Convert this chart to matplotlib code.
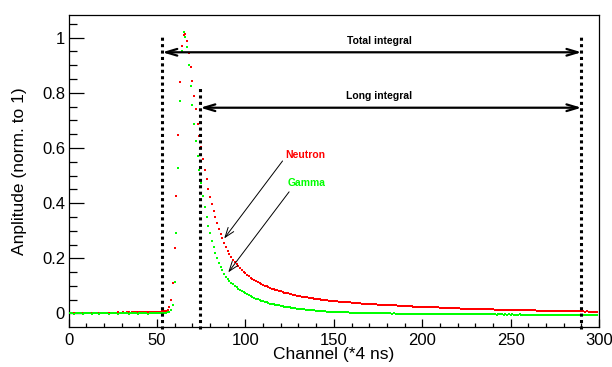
import numpy as np
import matplotlib
matplotlib.use("Agg")
import matplotlib.pyplot as plt
from matplotlib.ticker import MultipleLocator

plt.rcParams['font.family'] = ['Liberation Sans', 'DejaVu Sans']

# normalised pulse amplitudes per channel, in units of 1e-3
neutron = [
    0, 0, 1, 0, 0, 1, 0, 1, 0, 1,
    1, 0, 1, 1, 2, 1, 1, 2, 1, 2,
    2, 2, 3, 2, 3, 2, 3, 3, 4, 3,
    3, 4, 3, 4, 4, 3, 4, 4, 5, 4,
    4, 5, 4, 5, 5, 6, 5, 6, 6, 6,
    7, 6, 7, 8, 8, 10, 13, 23, 48, 109,
    238, 427, 646, 841, 968, 1008, 1015, 987, 944, 892,
    843, 789, 740, 688, 645, 602, 559, 520, 486, 452,
    423, 397, 371, 348, 327, 307, 289, 272, 256, 241,
    227, 215, 204, 194, 186, 178, 171, 164, 157, 151,
    145, 140, 135, 130, 126, 122, 118, 114, 110, 107,
    104, 101, 98, 95, 93, 90, 88, 86, 84, 82,
    80, 78, 76, 74, 73, 71, 70, 68, 67, 65,
    64, 63, 61, 60, 59, 58, 57, 56, 55, 54,
    53, 52, 51, 50, 50, 49, 48, 47, 47, 46,
    45, 45, 44, 43, 43, 42, 42, 41, 40, 40,
    39, 39, 38, 38, 37, 37, 36, 36, 35, 35,
    34, 34, 34, 33, 33, 32, 32, 32, 31, 31,
    30, 30, 30, 29, 29, 29, 28, 28, 28, 27,
    27, 27, 26, 26, 26, 25, 25, 25, 25, 24,
    24, 24, 23, 23, 23, 23, 22, 22, 22, 22,
    21, 21, 21, 21, 20, 20, 20, 20, 19, 19,
    19, 19, 18, 18, 18, 18, 18, 17, 17, 17,
    17, 16, 16, 16, 16, 16, 15, 15, 15, 15,
    15, 14, 14, 14, 14, 14, 13, 13, 13, 13,
    13, 13, 12, 12, 12, 12, 12, 12, 11, 11,
    11, 11, 11, 11, 11, 10, 10, 10, 10, 10,
    10, 10, 10, 9, 9, 9, 9, 9, 9, 9,
    9, 9, 8, 8, 8, 8, 8, 8, 8, 8,
    8, 8, 7, 8, 7, 7, 7, 7, 7, 7,
]

gamma = [
    0, 1, 0, -1, 0, 1, 0, 0, -1, 0,
    1, 0, 0, -1, 0, 1, 0, -1, 0, 1,
    0, 0, 1, -1, 0, 0, 1, 0, -1, 0,
    1, 0, 0, 1, -1, 0, 1, 0, 0, -1,
    0, 1, 0, 0, 1, -1, 0, 1, 0, 0,
    1, 0, 1, 1, 2, 3, 4, 6, 12, 30,
    114, 290, 526, 771, 950, 1019, 1002, 966, 900, 825,
    756, 688, 626, 571, 520, 472, 426, 385, 350, 317,
    290, 263, 242, 220, 201, 184, 169, 156, 144, 134,
    125, 118, 112, 106, 100, 95, 90, 85, 81, 77,
    73, 69, 66, 63, 60, 57, 54, 51, 48, 46,
    44, 42, 40, 38, 36, 35, 33, 32, 30, 29,
    28, 27, 25, 24, 23, 22, 21, 20, 19, 18,
    17, 16, 16, 15, 14, 13, 13, 12, 11, 11,
    10, 10, 9, 9, 8, 8, 7, 7, 7, 6,
    6, 6, 5, 5, 5, 4, 4, 4, 4, 3,
    3, 3, 3, 2, 2, 2, 2, 2, 1, 1,
    1, 1, 1, 1, 0, 0, 0, 0, 0, 0,
    0, 0, 0, -1, 0, -1, -1, -1, -1, -1,
    -1, -1, -1, -1, -1, -1, -2, -1, -1, -2,
    -1, -2, -2, -1, -2, -2, -2, -2, -1, -2,
    -2, -2, -2, -2, -2, -3, -2, -2, -2, -2,
    -2, -3, -2, -2, -3, -2, -3, -2, -3, -2,
    -3, -2, -3, -3, -2, -3, -3, -3, -3, -3,
    -3, -3, -4, -3, -3, -3, -4, -3, -4, -3,
    -4, -3, -4, -4, -4, -3, -4, -4, -4, -4,
    -4, -4, -4, -4, -5, -4, -4, -4, -5, -4,
    -4, -5, -4, -5, -4, -5, -5, -4, -5, -5,
    -5, -5, -5, -5, -5, -5, -5, -6, -5, -5,
    -5, -6, -5, -6, -5, -6, -5, -6, -6, -5,
]

channel = np.arange(len(neutron))

# integration gates (channels)
gate_start = 53
long_start = 74.5
gate_end = 290
total_level = 0.947
long_level = 0.746

red = '#ff0000'
green = '#00ff00'

fig = plt.figure(figsize=(6.12, 3.67), dpi=100)
ax = fig.add_axes([0.112, 0.109, 0.867, 0.850])

ax.plot(channel, np.array(neutron) / 1000.0, 's', color=red, ms=2.1, mew=0, zorder=3)
ax.plot(channel, np.array(gamma) / 1000.0, 's', color=green, ms=2.1, mew=0, zorder=4)

ax.set_xlim(0, 300)
ax.set_ylim(-0.049, 1.082)

# gate lines
dash = dict(color='black', lw=2.2, ls=(0, (1.0, 1.1)), solid_capstyle='butt',
            dash_capstyle='butt', clip_on=False, zorder=5)
ax.plot([gate_start, gate_start], [-0.058, 1.01], **dash)
ax.plot([long_start, long_start], [-0.058, 0.816], **dash)
ax.plot([gate_end, gate_end], [-0.058, 1.01], **dash)

harrow = dict(arrowstyle='<->,head_length=0.8,head_width=0.24', color='black',
              lw=1.6, shrinkA=0, shrinkB=0, mutation_scale=10)
ax.annotate('', xy=(gate_start, total_level), xytext=(gate_end, total_level),
            arrowprops=harrow, zorder=6)
ax.annotate('', xy=(long_start, long_level), xytext=(gate_end, long_level),
            arrowprops=harrow, zorder=6)
ax.text(175.5, 0.989, 'Total integral', ha='center', va='center',
        fontsize=7.5, fontweight='bold')
ax.text(175.5, 0.788, 'Long integral', ha='center', va='center',
        fontsize=7.5, fontweight='bold')

# labels pointing at the two pulses
parrow = dict(arrowstyle='->,head_length=0.7,head_width=0.25', color='black',
              lw=0.7, shrinkA=0, shrinkB=0, mutation_scale=10)
ax.annotate('', xy=(88, 0.272), xytext=(121, 0.553), arrowprops=parrow, zorder=6)
ax.annotate('', xy=(90.3, 0.149), xytext=(124.7, 0.441), arrowprops=parrow, zorder=6)
ax.text(133.6, 0.574, 'Neutron', color=red, ha='center', va='center',
        fontsize=7.5, fontweight='bold')
ax.text(134.8, 0.474, 'Gamma', color=green, ha='center', va='center',
        fontsize=7.5, fontweight='bold')

ax.xaxis.set_major_locator(MultipleLocator(50))
ax.xaxis.set_minor_locator(MultipleLocator(10))
ax.yaxis.set_major_locator(MultipleLocator(0.2))
ax.yaxis.set_minor_locator(MultipleLocator(0.05))
ax.yaxis.set_major_formatter(plt.FuncFormatter(lambda v, p: '%g' % round(v, 2)))

ax.tick_params(axis='both', which='both', direction='in', top=False, right=False,
               labelsize=12, width=0.9, colors='black')
ax.tick_params(axis='x', which='major', length=5.8, pad=4.5)
ax.tick_params(axis='x', which='minor', length=2.9)
ax.tick_params(axis='y', which='major', length=10.8, pad=2.5)
ax.tick_params(axis='y', which='minor', length=5.8)
for s in ax.spines.values():
    s.set_linewidth(0.9)

fig.text(334 / 612, 1 - 355 / 367, 'Channel (*4 ns)', ha='center', va='center', fontsize=12.5)
fig.text(20 / 612, 1 - 171 / 367, 'Anplitude (norm. to 1)', ha='center', va='center',
         rotation=90, fontsize=12.5)

fig.savefig('out.png', dpi=100)
